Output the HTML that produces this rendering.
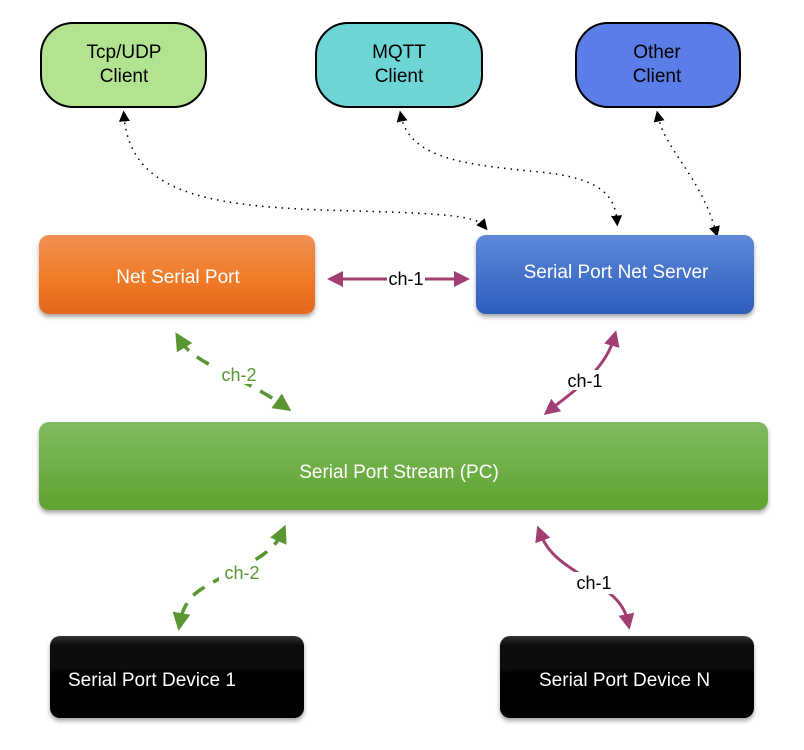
<!DOCTYPE html>
<html><head><style>body{margin:0;background:#fff}svg{display:block}text{font-family:"Liberation Sans",sans-serif}</style></head><body>
<svg width="804" height="750" viewBox="0 0 804 750" xmlns="http://www.w3.org/2000/svg">
<defs>
<linearGradient id="og" x1="0" y1="0" x2="0" y2="1"><stop offset="0" stop-color="#f29055"/><stop offset=".5" stop-color="#f07d2a"/><stop offset="1" stop-color="#e5681a"/></linearGradient>
<linearGradient id="bg" x1="0" y1="0" x2="0" y2="1"><stop offset="0" stop-color="#5d89d8"/><stop offset="1" stop-color="#2d5dbd"/></linearGradient>
<linearGradient id="gg" x1="0" y1="0" x2="0" y2="1"><stop offset="0" stop-color="#80bb60"/><stop offset="1" stop-color="#5fa330"/></linearGradient>
<linearGradient id="kg" x1="0" y1="0" x2="0" y2="1"><stop offset="0" stop-color="#333"/><stop offset=".12" stop-color="#0a0a0a"/><stop offset="1" stop-color="#000"/></linearGradient>
<filter id="sh" x="-10%" y="-10%" width="120%" height="130%"><feDropShadow dx="0" dy="3" stdDeviation="2" flood-color="#000" flood-opacity=".35"/></filter>
<marker id="ab" viewBox="0 0 10 10" refX="5" refY="5" markerWidth="11" markerHeight="11" orient="auto-start-reverse" markerUnits="userSpaceOnUse"><path d="M0,0L10,5L0,10z" fill="#000"/></marker>
<marker id="ap" viewBox="0 0 10 10" refX="5" refY="5" markerWidth="16" markerHeight="16" orient="auto-start-reverse" markerUnits="userSpaceOnUse"><path d="M0,0L10,5L0,10z" fill="#a23f72"/></marker>
<marker id="ag" viewBox="0 0 10 10" refX="5" refY="5" markerWidth="18" markerHeight="18" orient="auto-start-reverse" markerUnits="userSpaceOnUse"><path d="M0,0L10,5L0,10z" fill="#5a9632"/></marker>
</defs>
<rect x="41" y="23" width="165" height="84" rx="32" fill="#b1e391" stroke="#000" stroke-width="2"/>
<text x="124" y="58" font-size="19" text-anchor="middle">Tcp/UDP</text><text x="124" y="82" font-size="19" text-anchor="middle">Client</text>
<rect x="316" y="23" width="166" height="84" rx="32" fill="#6dd5d6" stroke="#000" stroke-width="2"/>
<text x="399" y="58" font-size="19" text-anchor="middle">MQTT</text><text x="399" y="82" font-size="19" text-anchor="middle">Client</text>
<rect x="576" y="23" width="164" height="84" rx="32" fill="#5a7de8" stroke="#000" stroke-width="2"/>
<text x="657" y="58" font-size="19" text-anchor="middle">Other</text><text x="657" y="82" font-size="19" text-anchor="middle">Client</text>
<g fill="none" stroke="#000" stroke-width="1.5" stroke-dasharray="1.5 5">
<path d="M124,116 C130,190 200,205 320,210 C440,213 475,215 484,226" marker-start="url(#ab)" marker-end="url(#ab)"/>
<path d="M401,116 C410,160 470,165 540,172 C600,178 615,195 617,221" marker-start="url(#ab)" marker-end="url(#ab)"/>
<path d="M658,116 C665,150 700,175 716,232" marker-start="url(#ab)" marker-end="url(#ab)"/>
</g>
<rect x="39" y="235" width="276" height="79" rx="10" fill="url(#og)" filter="url(#sh)"/>
<text x="178" y="283" font-size="19" fill="#fff" text-anchor="middle">Net Serial Port</text>
<rect x="476" y="235" width="278" height="79" rx="10" fill="url(#bg)" filter="url(#sh)"/>
<text x="616" y="278" font-size="19" fill="#fff" text-anchor="middle">Serial Port Net Server</text>
<rect x="39" y="422" width="729" height="88" rx="10" fill="url(#gg)" filter="url(#sh)"/>
<text x="399" y="478" font-size="19" fill="#fff" text-anchor="middle">Serial Port Stream (PC)</text>
<rect x="50" y="636" width="254" height="82" rx="10" fill="url(#kg)" filter="url(#sh)"/>
<text x="68" y="686" font-size="19" fill="#fff">Serial Port Device 1</text>
<rect x="500" y="636" width="254" height="82" rx="10" fill="url(#kg)" filter="url(#sh)"/>
<text x="539" y="686" font-size="19" fill="#fff">Serial Port Device N</text>
<path d="M335,279 L462,279" stroke="#a23f72" stroke-width="3" fill="none" marker-start="url(#ap)" marker-end="url(#ap)"/>
<rect x="387" y="268" width="38" height="22" fill="#fff"/>
<text x="406" y="285" font-size="18" text-anchor="middle">ch-1</text>
<path d="M180,340 C195,365 240,375 284,406" stroke="#5a9632" stroke-width="3.5" stroke-dasharray="14 10" fill="none" marker-start="url(#ag)" marker-end="url(#ag)"/>
<rect x="216" y="364" width="46" height="20" fill="#fff"/>
<text x="239" y="381" font-size="18" fill="#5a9632" text-anchor="middle">ch-2</text>
<path d="M614,338 C605,370 575,390 550,410" stroke="#a23f72" stroke-width="3" fill="none" marker-start="url(#ap)" marker-end="url(#ap)"/>
<rect x="564" y="370" width="42" height="20" fill="#fff"/>
<text x="585" y="387" font-size="18" text-anchor="middle">ch-1</text>
<path d="M282,533 C270,560 230,570 200,590 C188,598 182,610 180,622" stroke="#5a9632" stroke-width="3.5" stroke-dasharray="14 10" fill="none" marker-start="url(#ag)" marker-end="url(#ag)"/>
<rect x="219" y="562" width="46" height="22" fill="#fff"/>
<text x="242" y="579" font-size="18" fill="#5a9632" text-anchor="middle">ch-2</text>
<path d="M540,533 C550,560 575,570 605,590 C620,600 626,612 628,622" stroke="#a23f72" stroke-width="3" fill="none" marker-start="url(#ap)" marker-end="url(#ap)"/>
<rect x="573" y="572" width="42" height="22" fill="#fff"/>
<text x="594" y="589" font-size="18" text-anchor="middle">ch-1</text>
</svg>
</body></html>
